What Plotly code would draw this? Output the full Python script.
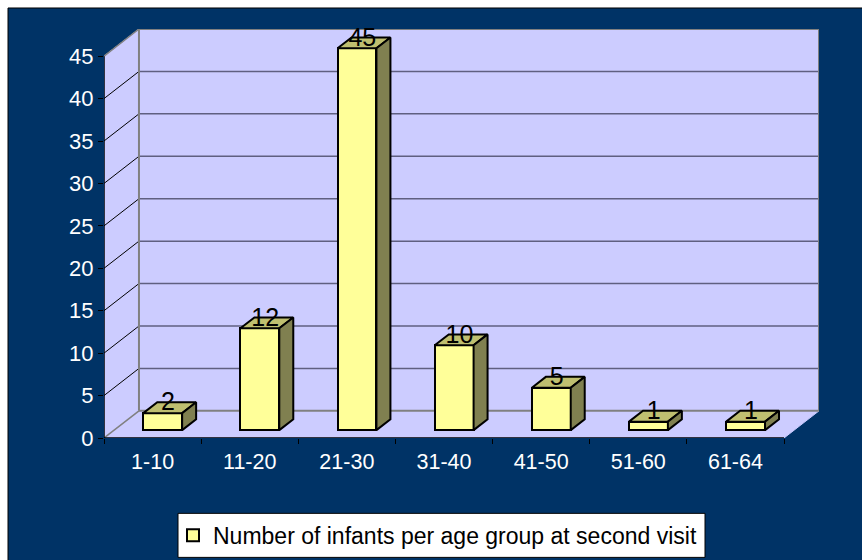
import plotly.graph_objects as go

categories = ["1-10", "11-20", "21-30", "31-40", "41-50", "51-60", "61-64"]
values = [2, 12, 45, 10, 5, 1, 1]
y_ticks = [0, 5, 10, 15, 20, 25, 30, 35, 40, 45]
series_name = "Number of infants per age group at second visit"

W, H = 862, 560
ML, MR, MT, MB = 104, 43, 29, 122.3
PW, PH = W - ML - MR, H - MT - MB

NAVY = "#003366"
WALL = "#CCCCFF"
YEL = "#FFFF99"
TOP = "#BFBF70"
SIDE = "#808050"
GREY = "#808080"
GRID = "#5F5F80"
FONT = "Liberation Sans, Arial, sans-serif"

n = len(categories)
ymax = max(y_ticks)
DX, DY = 0.36, 3.2       # chart depth in axis units
BW = 0.40                # bar width
F0, BD = 0.29, 0.40      # bar front position and bar depth as fractions of depth


def px(x):
    return (x - ML) / PW


def py(y):
    return (H - MB - y) / PH


shapes = []
# chart area
shapes.append(dict(type="rect", xref="paper", yref="paper", x0=px(8), x1=px(W + 5), y0=py(8), y1=py(H + 5),
                   fillcolor=NAVY, line=dict(color="#000000", width=1), layer="below"))


def poly(pts, fill, line=None, width=1):
    path = "M" + "L".join(f"{x},{y}" for x, y in pts) + "Z"
    shapes.append(dict(type="path", xref="x", yref="y", path=path, fillcolor=fill,
                       line=dict(color=line or fill, width=width), layer="below"))


def seg(x0, y0, x1, y1, color, width):
    shapes.append(dict(type="line", xref="x", yref="y", x0=x0, y0=y0, x1=x1, y1=y1,
                       line=dict(color=color, width=width), layer="below"))


# floor, back wall, left wall
poly([(0, 0), (n, 0), (n + DX, DY), (DX, DY)], WALL)
poly([(0, 0), (DX, DY), (DX, ymax + DY), (0, ymax)], WALL)
poly([(DX, DY), (n + DX, DY), (n + DX, ymax + DY), (DX, ymax + DY)], WALL)
for t in y_ticks[1:-1]:
    seg(DX, t + DY, n + DX, t + DY, GRID, 1.5)
    seg(0, t, DX, t + DY, "#000000", 1)
seg(DX, DY, DX, ymax + DY, GREY, 2)
seg(DX, ymax + DY, n + DX, ymax + DY, GREY, 2)
seg(n + DX, DY, n + DX, ymax + DY, GREY, 2)
seg(DX, DY, n + DX, DY, GREY, 2)
seg(0, 0, DX, DY, GREY, 1.5)
seg(0, ymax, DX, ymax + DY, GREY, 1.5)
# axis lines
seg(0, 0, n, 0, "#000000", 1.5)
seg(0, 0, 0, ymax, "#000000", 1.5)

# legend box
shapes.append(dict(type="rect", xref="paper", yref="paper", x0=px(178), x1=px(705), y0=py(513), y1=py(557),
                   fillcolor="#FFFFFF", line=dict(color="#000000", width=1), layer="below"))

x_centres = [i + 0.5 + F0 * DX for i in range(n)]
base = F0 * DY
ddx, ddy = BD * DX, BD * DY

top_x, top_y, side_x, side_y = [], [], [], []
for xc, v in zip(x_centres, values):
    l, r = xc - BW / 2, xc + BW / 2
    t = base + v
    top_x += [l, r, r + ddx, l + ddx, l, None]
    top_y += [t, t, t + ddy, t + ddy, t, None]
    side_x += [r, r + ddx, r + ddx, r, r, None]
    side_y += [base, base + ddy, t + ddy, t, base, None]

fig = go.Figure()
fig.add_trace(go.Bar(x=x_centres, y=values, base=base, width=BW, name=series_name,
                     marker=dict(color=YEL, line=dict(color="#000000", width=2)), showlegend=True))
fig.add_trace(go.Scatter(x=top_x, y=top_y, mode="lines", fill="toself", fillcolor=TOP,
                         line=dict(color="#000000", width=2), showlegend=False, hoverinfo="skip"))
fig.add_trace(go.Scatter(x=side_x, y=side_y, mode="lines", fill="toself", fillcolor=SIDE,
                         line=dict(color="#000000", width=2), showlegend=False, hoverinfo="skip"))
fig.add_trace(go.Scatter(x=[xc + 0.055 for xc in x_centres], y=[base + v - 0.42 for v in values], mode="text",
                         text=[str(v) for v in values], textposition="top center",
                         textfont=dict(family=FONT, size=25, color="#000000"), cliponaxis=False,
                         showlegend=False, hoverinfo="skip"))

fig.update_layout(
    width=W, height=H,
    margin=dict(l=ML, r=MR, t=MT, b=MB, pad=0, autoexpand=False),
    paper_bgcolor="#FFFFFF", plot_bgcolor="rgba(0,0,0,0)",
    shapes=shapes,
    font=dict(family=FONT),
    bargap=0,
    legend=dict(x=px(173), y=py(535), xanchor="left", yanchor="middle",
                bgcolor="rgba(0,0,0,0)", borderwidth=0,
                font=dict(family=FONT, size=23, color="#000000"),
                itemclick=False, itemdoubleclick=False),
    xaxis=dict(range=[0, n + DX], showgrid=False, zeroline=False, showline=False,
               tickmode="array", tickvals=[i + 0.5 for i in range(n)], ticktext=categories,
               ticks="outside", ticklen=4, tickcolor="rgba(0,0,0,0)",
               tickfont=dict(family=FONT, size=21.5, color="#FFFFFF"),
               minor=dict(tickmode="array", tickvals=list(range(n + 1)), ticks="outside",
                          ticklen=5, tickcolor="#000000", tickwidth=1, showgrid=False)),
    yaxis=dict(range=[0, ymax + DY], showgrid=False, zeroline=False, showline=False,
               tickmode="array", tickvals=y_ticks, ticks="outside", ticklen=5,
               tickcolor="#000000", tickwidth=1,
               tickfont=dict(family=FONT, size=22, color="#FFFFFF")),
)

fig.write_html("out.html", config={"displayModeBar": False},
               post_script="document.body.style.margin='0';")
